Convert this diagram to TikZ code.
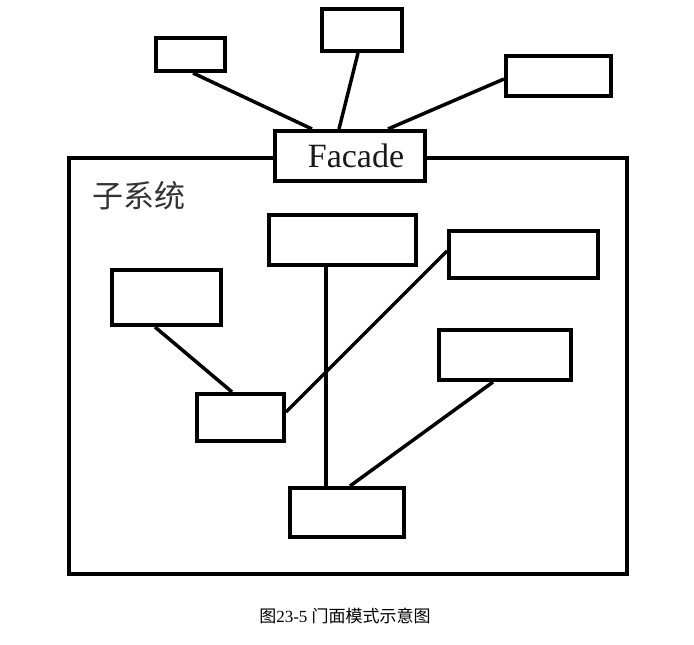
\documentclass[tikz,border=0pt]{standalone}
\usepackage{fontspec}
\setmainfont{Liberation Serif}
\newfontfamily\cjk{Noto Sans CJK SC}
\usetikzlibrary{calc}
\begin{document}
\begin{tikzpicture}[x=1pt,y=-1pt,
  box/.style={draw=black,line width=4pt,fill=white,inner sep=0pt,
    minimum width=#1},
  conn/.style={draw=black,line width=3.5pt,line cap=butt}]
\useasboundingbox[fill=white] (0,0) rectangle (694,645);
% subsystem frame
\node[box=558pt,minimum height=416pt,fill=none] (sys) at (348,366) {};
\node[anchor=center,text=black!80,font=\cjk\fontsize{31}{31}\selectfont] (systxt) at (139,196) {子系统};
% top clients
\node[box=69pt,minimum height=33pt] (A) at (190.5,54.5) {};
\node[box=80pt,minimum height=42pt] (B) at (362,30) {};
\node[box=105pt,minimum height=40pt] (C) at (558.5,76) {};
% facade
\node[box=150pt,minimum height=50pt] (F0) at (350,156) {};
\node[text=black!90,font=\fontsize{34}{34}\selectfont,inner sep=0pt] (ftxt) at (356,156) {Facade};
% subsystem classes
\node[box=147pt,minimum height=50pt] (D) at (342.5,240) {};
\node[box=149pt,minimum height=47pt] (E) at (523.5,254.5) {};
\node[box=109pt,minimum height=55pt] (F) at (166.5,297.5) {};
\node[box=132pt,minimum height=50pt] (G) at (505,355) {};
\node[box=87pt,minimum height=47pt] (H) at (240.5,417.5) {};
\node[box=114pt,minimum height=49pt] (I) at (347,512.5) {};
% connectors
\draw[conn] ($(A.south)+(2.5,0)$) -- ($(F0.north)+(-38,0)$);
\draw[conn] ($(B.south)+(-4,0)$) -- ($(F0.north)+(-11,0)$);
\draw[conn] ($(C.west)+(0,3)$) -- ($(F0.north)+(38,0)$);
\draw[conn] ($(D.south)+(-16.5,0)$) -- ($(I.north)+(-21,0)$);
\draw[conn] ($(F.south)+(-11.5,0)$) -- ($(H.north)+(-8.5,0)$);
\draw[conn] ($(H.east)+(0,-5.5)$) -- ($(E.west)+(0,-3.5)$);
\draw[conn] ($(G.south)+(-12,0)$) -- ($(I.north)+(3,0)$);
% caption
\node[font=\fontsize{17}{17}\selectfont,inner sep=0pt] (cap) at (345,616) {{\cjk 图}23-5 {\cjk 门面模式示意图}};
\end{tikzpicture}
\end{document}
